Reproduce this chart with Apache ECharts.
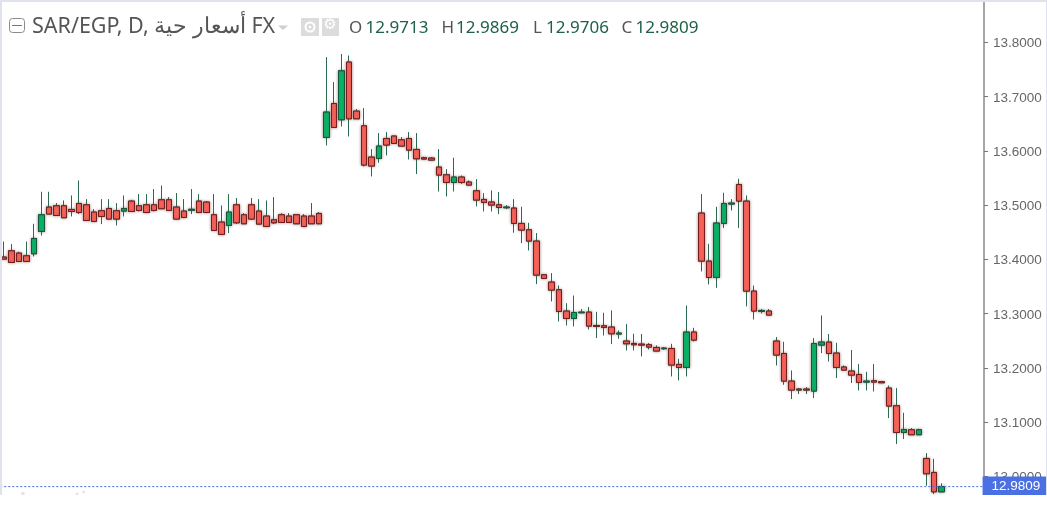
<!DOCTYPE html>
<html>
<head>
<meta charset="utf-8">
<style>html,body{margin:0;padding:0;background:#fff}#c{width:1047px;height:511px}</style>
<script src="https://cdn.jsdelivr.net/npm/echarts@6/dist/echarts.min.js"></script>
</head>
<body>
<div id="c"></div>
<script>
const opens = [
13.4040,13.4156,13.4114,13.4064,13.4101,13.4512,13.4962,13.4986,13.4986,13.4918,
13.5028,13.5004,13.4870,13.4894,13.4936,13.4894,13.4888,13.5072,13.4986,13.5004,
13.5004,13.5097,13.5097,13.4962,13.4888,13.4903,13.5072,13.5054,13.4820,13.4685,
13.4623,13.5004,13.4820,13.5004,13.4888,13.4796,13.4728,13.4820,13.4796,13.4820,
13.4796,13.4796,13.4844,13.6245,13.6871,13.6571,13.7635,13.6731,13.6460,13.5883,
13.5858,13.6226,13.6271,13.6202,13.6226,13.6024,13.5871,13.5865,13.5699,13.5557,
13.5415,13.5515,13.5423,13.5262,13.5102,13.5054,13.5004,13.4949,13.4943,13.4660,
13.4543,13.4335,13.3714,13.3579,13.3437,13.3045,13.2908,13.3013,13.3026,13.2779,
13.2774,13.2750,13.2621,13.2492,13.2448,13.2436,13.2424,13.2374,13.2350,13.2355,
13.2061,13.2005,13.2658,13.4851,13.3966,13.3664,13.4660,13.5017,13.5378,13.5072,
13.3413,13.3038,13.3045,13.2492,13.2263,13.1754,13.1607,13.1607,13.1570,13.2418,
13.2473,13.2271,13.2013,13.1939,13.1876,13.1736,13.1760,13.1742,13.1625,13.1299,
13.0807,13.0857,13.0765,13.0328,13.0070,12.9713];
const closes = [
13.4003,13.3941,13.3959,13.3959,13.4383,13.4820,13.4833,13.4807,13.4765,13.4881,
13.4862,13.4715,13.4696,13.4789,13.4741,13.4741,13.4936,13.4881,13.4899,13.4862,
13.4899,13.4931,13.4899,13.4741,13.4770,13.4921,13.4862,13.4862,13.4531,13.4457,
13.4870,13.4672,13.4654,13.4741,13.4648,13.4604,13.4672,13.4678,13.4678,13.4654,
13.4604,13.4654,13.4654,13.6713,13.6429,13.7474,13.6589,13.6589,13.5736,13.5718,
13.6086,13.6105,13.6134,13.6086,13.6012,13.5852,13.5847,13.5828,13.5552,13.5415,
13.5515,13.5415,13.5367,13.5091,13.5047,13.4999,13.4954,13.4962,13.4660,13.4538,
13.4335,13.3708,13.3646,13.3432,13.3037,13.2908,13.3019,13.3026,13.2768,13.2761,
13.2743,13.2626,13.2639,13.2442,13.2424,13.2418,13.2381,13.2308,13.2363,13.2049,
13.2005,13.2658,13.2510,13.3966,13.3664,13.4667,13.5028,13.5036,13.5072,13.3413,
13.3045,13.3056,13.2971,13.2234,13.1754,13.1589,13.1589,13.1589,13.2447,13.2473,
13.2263,13.2005,13.1957,13.1865,13.1729,13.1754,13.1736,13.1723,13.1294,13.0807,
13.0862,13.0765,13.0857,13.0046,12.9713,12.9809];
const highs = [
13.4328,13.4280,13.4138,13.4328,13.4654,13.5244,13.5244,13.5036,13.5084,13.5176,
13.5452,13.5109,13.4925,13.5109,13.5109,13.5036,13.5176,13.5096,13.5201,13.5201,
13.5294,13.5360,13.5146,13.5220,13.5109,13.5294,13.5201,13.5072,13.5201,13.4991,
13.5201,13.5128,13.4851,13.5128,13.5109,13.5084,13.5146,13.4851,13.4851,13.4829,
13.4833,13.5036,13.4870,13.7727,13.7266,13.7782,13.7756,13.6768,13.6787,13.6031,
13.6326,13.6344,13.6276,13.6252,13.6344,13.6326,13.5889,13.5883,13.6031,13.5662,
13.5871,13.5544,13.5452,13.5478,13.5220,13.5268,13.5238,13.4999,13.5109,13.4967,
13.4672,13.4483,13.3727,13.3745,13.3517,13.3192,13.3332,13.3082,13.3119,13.3032,
13.3013,13.3056,13.2687,13.2805,13.2626,13.2621,13.2455,13.2411,13.2381,13.2442,
13.2165,13.3148,13.2737,13.5201,13.4285,13.4967,13.5225,13.5109,13.5483,13.5176,
13.3517,13.3082,13.3082,13.2566,13.2479,13.1950,13.1625,13.1644,13.2547,13.2964,
13.2621,13.2460,13.2042,13.2326,13.2068,13.1926,13.2068,13.1742,13.1673,13.1625,
13.1170,13.0888,13.0875,13.0427,13.0322,12.9869];
const lows = [
13.4000,13.3935,13.3959,13.3959,13.4051,13.4438,13.4833,13.4807,13.4765,13.4789,
13.4833,13.4715,13.4696,13.4648,13.4741,13.4623,13.4789,13.4881,13.4881,13.4857,
13.4881,13.4931,13.4899,13.4741,13.4759,13.4833,13.4851,13.4862,13.4531,13.4457,
13.4483,13.4648,13.4654,13.4728,13.4648,13.4604,13.4648,13.4678,13.4678,13.4654,
13.4604,13.4654,13.4654,13.6097,13.6429,13.6448,13.6263,13.6589,13.5710,13.5526,
13.5778,13.5913,13.6134,13.6086,13.5839,13.5570,13.5839,13.5821,13.5249,13.5157,
13.5249,13.5386,13.5360,13.4973,13.4881,13.4881,13.4833,13.4925,13.4488,13.4298,
13.4162,13.3542,13.3646,13.3222,13.2853,13.2779,13.2761,13.3008,13.2706,13.2547,
13.2595,13.2436,13.2534,13.2319,13.2319,13.2208,13.2337,13.2308,13.2332,13.1839,
13.1766,13.1839,13.2484,13.3775,13.3535,13.3474,13.4575,13.4899,13.4575,13.3130,
13.2890,13.3001,13.2971,13.2042,13.1686,13.1423,13.1515,13.1515,13.1441,13.2271,
13.2116,13.1810,13.1950,13.1718,13.1581,13.1581,13.1563,13.1723,13.1072,13.0593,
13.0685,13.0765,13.0765,12.9825,12.9671,12.9706];
const tickLabels = [13.0,13.1,13.2,13.3,13.4,13.5,13.6,13.7,13.8];
const lastPrice = 12.9809;
const titleText = 'SAR/EGP, D, أسعار حية FX';
const ohlcLetters = ['O','H','L','C'];
const ohlcValues = ['12.9713','12.9869','12.9706','12.9809'];

const categories = opens.map((_, i) => 'D' + (i + 1));
for (let i = 0; i < 5; i++) categories.push('');

const wickData = opens.map((o, i) => [o, closes[i], lows[i], highs[i]]);
const bodyData = opens.map((o, i) => [o, closes[i], Math.min(o, closes[i]), Math.max(o, closes[i])]);

const hdrFont = '"Noto Sans", sans-serif';
const ohlcX = [349, 441.5, 533, 621.5];
const valX = [365.5, 456, 546, 635.5];
const graphics = [
  {type:'rect', shape:{x:0,y:495,width:1047,height:16}, style:{fill:'#fff'}, z:90},
  {type:'rect', shape:{x:0,y:0,width:1047,height:2}, style:{fill:'#e0e3eb'}, z:91},
  {type:'rect', shape:{x:0,y:0,width:2,height:495}, style:{fill:'#e0e3eb'}, z:91},
  {type:'rect', shape:{x:1046,y:0,width:1,height:495}, style:{fill:'#e0e3eb'}, z:91},
  {type:'text', x:20, y:490, style:{text:'Investing.com', fill:'#e4e4e4', font:'bold 21px "Liberation Sans", sans-serif'}, z:80},
  {type:'rect', shape:{x:9.5,y:18.5,width:15,height:14,r:3}, style:{fill:'#fff',stroke:'#8a8a8a',lineWidth:1}, z:91},
  {type:'rect', shape:{x:12,y:25,width:10,height:1}, style:{fill:'#777'}, z:91},
  {type:'text', x:32, y:15.5, style:{text:titleText, fill:'#555', font:'21.5px '+hdrFont}, z:91},
  {type:'polygon', shape:{points:[[278,25.5],[288,25.5],[283,30]]}, style:{fill:'#cfcfcf'}, z:91},
  {type:'rect', shape:{x:301,y:18,width:18,height:18}, style:{fill:'#dcdcdc'}, z:91},
  {type:'rect', shape:{x:322,y:18,width:17,height:18}, style:{fill:'#dcdcdc'}, z:91},
  {type:'circle', shape:{cx:310,cy:27,r:4.5}, style:{fill:'none',stroke:'#fff',lineWidth:2}, z:92},
  {type:'circle', shape:{cx:310,cy:27,r:1.3}, style:{fill:'#fff'}, z:92},
  {type:'text', x:323.5, y:18, style:{text:'\u2699', fill:'#fff', font:'15px "DejaVu Sans"'}, z:92}
];
ohlcLetters.forEach((l, i) => {
  graphics.push({type:'text', x:ohlcX[i], y:20, style:{text:l, fill:'#555', font:'17px '+hdrFont}, z:91});
  graphics.push({type:'text', x:valX[i], y:20, style:{text:ohlcValues[i], fill:'#1d6146', font:'17px '+hdrFont}, z:91});
});

const chart = echarts.init(document.getElementById('c'), null, {renderer:'canvas', width:1047, height:511});
chart.setOption({
  animation:false,
  backgroundColor:'#fff',
  tooltip:{show:false},
  grid:{left:0.25, width:982.3, top:-12, height:542.5, outerBoundsMode:'none'},
  xAxis:[
    {type:'category', data:categories, show:false, boundaryGap:true},
    {type:'value', min:0, max:1, show:false}
  ],
  yAxis:{
    type:'value', position:'right', offset:1.5, min:12.9, max:13.9, interval:0.1,
    splitLine:{show:false},
    axisLine:{show:true, onZero:false, lineStyle:{color:'#8a8a8a', width:1.5}},
    axisTick:{show:true, length:4, lineStyle:{color:'#777', width:1}},
    axisLabel:{
      margin:9, color:'#666', fontSize:13.5, fontFamily:'"Liberation Sans", Arial, sans-serif',
      verticalAlign:'top', lineHeight:3,
      showMinLabel:false, showMaxLabel:false,
      formatter:v => tickLabels.some(t => Math.abs(t - v) < 1e-6) ? v.toFixed(4) : ''
    }
  },
  series:[
    {
      name:'wicks', type:'candlestick', data:wickData, barWidth:6, z:2,
      itemStyle:{color:'#00b868', color0:'#ff6359', borderColor:'#2a6a50', borderColor0:'#2a6a50', borderWidth:1},
      silent:true
    },
    {
      name:'bodies', type:'candlestick', data:bodyData, barWidth:6, z:3,
      itemStyle:{color:'#00b868', color0:'#ff6359', borderColor:'#14573c', borderColor0:'#761c1c', borderWidth:1,
        shadowColor:'rgba(110,70,70,0.6)', shadowBlur:3},
      silent:true
    },
    {
      name:'lastPrice', type:'line', xAxisIndex:1, data:[[0, lastPrice],[1, lastPrice]], z:5, silent:true,
      symbol:'none', showSymbol:false, clip:false,
      lineStyle:{color:'#3f6ff0', type:[2,2], width:1},
      itemStyle:{color:'#3f6ff0'},
      endLabel:{
        show:true, distance:0, formatter:()=>lastPrice.toFixed(4),
        backgroundColor:'#4a70e4', color:'#fff', fontSize:13.5,
        fontFamily:'"Liberation Sans", Arial, sans-serif',
        width:54, height:18, lineHeight:18, align:'left', padding:[1,1,1,9]
      }
    }
  ],
  graphic:{elements:graphics}
});
</script>
</body>
</html>
